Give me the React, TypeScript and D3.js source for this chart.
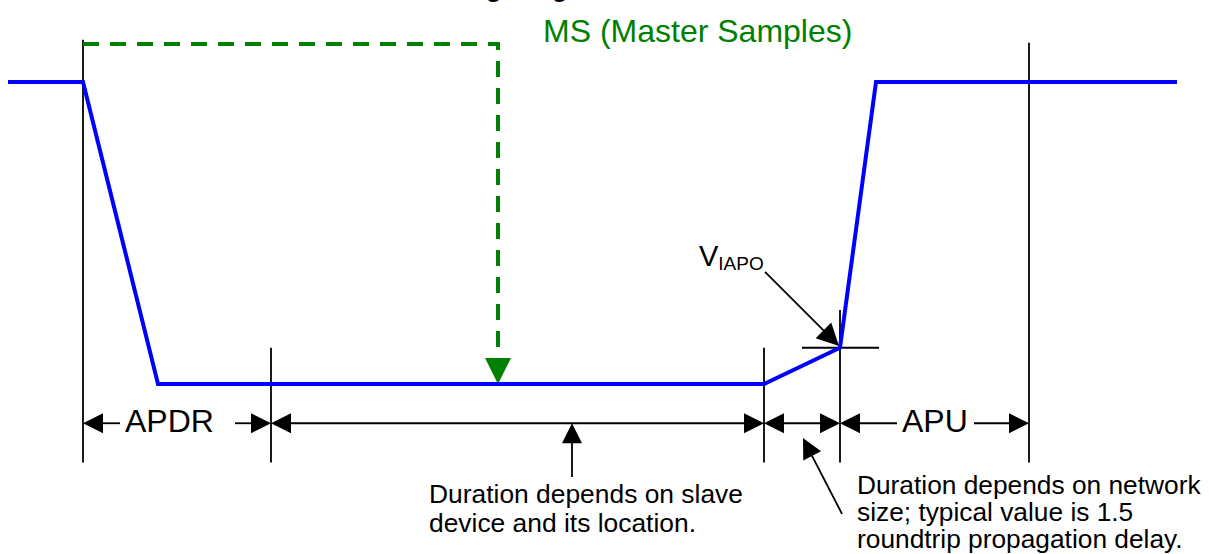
import * as d3 from "d3";

// waveform (time units, level 0 = low, 1 = high)
const waveT = [0, 75, 150, 756, 832, 868, 1169];
const waveLevel = [1, 1, 0, 0, 0.12, 1, 1];

// vertical extension lines
const markT = [75, 263, 756, 832, 1021];
const markTop = [1.14, 0.12, 0.12, 0.245, 1.13];
const markBottom = -0.26;

// dimension arrows along the bottom
const dimLevel = -0.13;
const dimFrom = [75, 263, 756, 832];
const dimTo = [263, 756, 832, 1021];
const dimLabels = ["APDR", "", "", "APU"];
const gapFrom = [112, 0, 0, 889];
const gapTo = [227, 0, 0, 966];

// master sample (green dashed)
const msStartT = 75;
const msSampleT = 490;
const msLevel = 1.126;

const W = 1209;
const H = 554;

const x = d3.scaleLinear().domain([0, 1169]).range([8, 1177]);
const y = d3.scaleLinear().domain([0, 1]).range([384, 82]);

const font = "Arial, 'Liberation Sans', sans-serif";

// filled arrow head with tip at (tx,ty), pointing away from (fx,fy)
function head(fx: number, fy: number, tx: number, ty: number, len = 20, hw = 10) {
  const a = Math.atan2(ty - fy, tx - fx);
  const bx = tx - len * Math.cos(a);
  const by = ty - len * Math.sin(a);
  const px = -Math.sin(a) * hw;
  const py = Math.cos(a) * hw;
  return `M${tx},${ty}L${bx + px},${by + py}L${bx - px},${by - py}Z`;
}

export default function App() {
  const line = d3
    .line<number>()
    .x((_, i) => x(waveT[i]))
    .y((d) => y(d));

  const dy = y(dimLevel);
  const vy = y(0.12);

  // leader lines
  const vLead = { x1: x(757), y1: y(0.371), x2: x(831), y2: y(0.126) };
  const midLead = { x: x(564), y1: dy, y2: y(-0.308) };
  const rightLead = { x1: x(834), y1: y(-0.43), x2: x(795), y2: y(-0.179) };

  return (
    <svg
      width={W}
      height={H}
      style={{ position: "absolute", left: 0, top: 0, background: "#fff" }}
      fontFamily={font}
    >
      {/* title, cut by the top edge */}
      <text x={414} y={-4} fontSize={27} fontWeight="bold" fill="#000">
        Timing Diagram
      </text>

      {/* extension lines */}
      {markT.map((t, i) => (
        <line
          key={i}
          x1={x(t)}
          x2={x(t)}
          y1={y(markTop[i])}
          y2={y(markBottom)}
          stroke="#000"
          strokeWidth={1.8}
        />
      ))}

      {/* crosshair at V_IAPO */}
      <line x1={x(794)} x2={x(871)} y1={vy} y2={vy} stroke="#000" strokeWidth={1.8} />

      {/* master sample dashed line */}
      <path
        d={`M${x(msStartT)},${y(msLevel)}H${x(msSampleT)}V${y(0) - 26}`}
        fill="none"
        stroke="#008000"
        strokeWidth={4}
        strokeDasharray="16 11"
      />
      <path d={head(x(msSampleT), y(msLevel), x(msSampleT), y(0), 26, 13)} fill="#008000" />

      {/* waveform */}
      <path
        d={line(waveLevel) || ""}
        fill="none"
        stroke="#0000ff"
        strokeWidth={4}
        strokeLinejoin="miter"
      />

      {/* dimension arrows */}
      {dimFrom.map((t0, i) => {
        const x0 = x(t0);
        const x1 = x(dimTo[i]);
        const segs = dimLabels[i]
          ? [
              [x0 + 20, x(gapFrom[i])],
              [x(gapTo[i]), x1 - 20],
            ]
          : [[x0 + 20, x1 - 20]];
        return (
          <g key={i}>
            {segs.map((s, j) => (
              <line key={j} x1={s[0]} x2={s[1]} y1={dy} y2={dy} stroke="#000" strokeWidth={1.8} />
            ))}
            <path d={head(x1, dy, x0, dy)} fill="#000" />
            <path d={head(x0, dy, x1, dy)} fill="#000" />
            {dimLabels[i] && (
              <text x={x(gapFrom[i]) + 5} y={dy + 9} fontSize={32} fill="#000">
                {dimLabels[i]}
              </text>
            )}
          </g>
        );
      })}

      {/* V_IAPO label and leader */}
      <text x={699} y={266} fontSize={29} fill="#000">
        V
        <tspan fontSize={19} dy={4}>
          IAPO
        </tspan>
      </text>
      <line x1={vLead.x1} y1={vLead.y1} x2={vLead.x2 - 8} y2={vLead.y2 - 8} stroke="#000" strokeWidth={1.8} />
      <path d={head(vLead.x1, vLead.y1, vLead.x2, vLead.y2, 22, 11)} fill="#000" />

      {/* middle leader */}
      <line x1={midLead.x} x2={midLead.x} y1={midLead.y1 + 15} y2={midLead.y2} stroke="#000" strokeWidth={1.8} />
      <path d={head(midLead.x, midLead.y2, midLead.x, midLead.y1)} fill="#000" />

      {/* right leader */}
      <line
        x1={rightLead.x1}
        y1={rightLead.y1}
        x2={rightLead.x2 + 4}
        y2={rightLead.y2 + 8}
        stroke="#000"
        strokeWidth={1.8}
      />
      <path d={head(rightLead.x1, rightLead.y1, rightLead.x2, rightLead.y2)} fill="#000" />

      {/* annotations */}
      <text x={543} y={42} fontSize={32} fill="#008000">
        MS (Master Samples)
      </text>
      <text fontSize={26.4} fill="#000">
        <tspan x={429} y={503}>Duration depends on slave</tspan>
        <tspan x={429} y={532}>device and its location.</tspan>
      </text>
      <text fontSize={26.3} fill="#000">
        <tspan x={857} y={494}>Duration depends on network</tspan>
        <tspan x={857} y={521}>size; typical value is 1.5</tspan>
        <tspan x={857} y={548}>roundtrip propagation delay.</tspan>
      </text>
    </svg>
  );
}
